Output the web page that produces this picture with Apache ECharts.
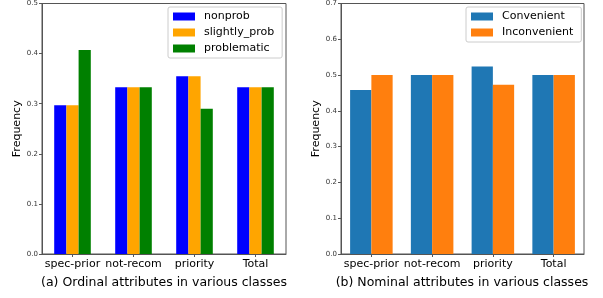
<!DOCTYPE html>
<html>
<head>
<meta charset="utf-8">
<script src="https://cdn.jsdelivr.net/npm/echarts@6/dist/echarts.min.js"></script>
<style>
  html, body { margin: 0; padding: 0; background: #fff; }
  #chart { width: 603px; height: 298px; }
</style>
</head>
<body>
<div id="chart"></div>
<script>
// 数据
const categories = ['spec-prior', 'not-recom', 'priority', 'Total'];

// (a) ordinal
const nonprob = [0.297, 0.333, 0.355, 0.333];
const slightlyProb = [0.297, 0.333, 0.355, 0.333];
const problematic = [0.407, 0.333, 0.290, 0.333];

// (b) nominal
const convenient = [0.458, 0.500, 0.524, 0.500];
const inconvenient = [0.500, 0.500, 0.473, 0.500];

const FONT = 'DejaVu Sans';
const FRAME = '#555';

const yAxisBase = (gridIndex, max) => ({
  type: 'value',
  gridIndex,
  min: 0,
  max,
  interval: 0.1,
  name: 'Frequency',
  nameLocation: 'middle',
  nameGap: 18,
  nameTextStyle: { fontFamily: FONT, fontSize: 11, color: '#000' },
  axisLine: { show: true, lineStyle: { color: FRAME } },
  axisTick: { show: true, length: 3, lineStyle: { color: FRAME } },
  axisLabel: { fontFamily: FONT, fontSize: 7, color: '#333', margin: 4,
    formatter: (v) => v.toFixed(1) },
  splitLine: { show: false },
});

const xAxisBase = (gridIndex) => ({
  type: 'category',
  gridIndex,
  data: categories,
  axisLine: { show: true, lineStyle: { color: FRAME } },
  axisTick: { show: true, alignWithLabel: true, length: 3, lineStyle: { color: FRAME } },
  axisLabel: { fontFamily: FONT, fontSize: 11, color: '#000', margin: 5, interval: 0 },
});

const bar = (name, data, color, idx, gap) => ({
  name,
  type: 'bar',
  data,
  xAxisIndex: idx,
  yAxisIndex: idx,
  barGap: '0%',
  barCategoryGap: gap,
  itemStyle: { color },
});

const legendBase = {
  orient: 'vertical',
  icon: 'rect',
  itemWidth: 22,
  itemHeight: 8,
  itemGap: 5,
  padding: [4, 8, 4, 5],
  borderColor: '#ccc',
  borderWidth: 1,
  borderRadius: 2,
  backgroundColor: '#fff',
  textStyle: { fontFamily: FONT, fontSize: 11, color: '#000', padding: [0, 0, 0, 4] },
  itemStyle: { borderWidth: 0 },
};

const chart = echarts.init(document.getElementById('chart'), null, { renderer: 'canvas' });

chart.setOption({
  animation: false,
  textStyle: { fontFamily: FONT },
  grid: [
    { left: 42, right: 317, top: 2, bottom: 44, show: true, borderColor: FRAME, borderWidth: 1 },
    { left: 341, right: 19, top: 1, bottom: 44, show: true, borderColor: FRAME, borderWidth: 1 },
  ],
  xAxis: [xAxisBase(0), xAxisBase(1)],
  yAxis: [yAxisBase(0, 0.5), yAxisBase(1, 0.7)],
  legend: [
    Object.assign({}, legendBase, { left: 168, top: 7, data: ['nonprob', 'slightly_prob', 'problematic'] }),
    Object.assign({}, legendBase, { left: 466, top: 7, data: ['Convenient', 'Inconvenient'] }),
  ],
  series: [
    bar('nonprob', nonprob, '#0000ff', 0, '40%'),
    bar('slightly_prob', slightlyProb, '#ffa500', 0, '40%'),
    bar('problematic', problematic, '#008000', 0, '40%'),
    bar('Convenient', convenient, '#1f77b4', 1, '30%'),
    bar('Inconvenient', inconvenient, '#ff7f0e', 1, '30%'),
  ],
  graphic: [
    { type: 'text', x: 164, y: 283, style: { text: '(a) Ordinal attributes in various classes',
      font: '12.5px "DejaVu Sans"', fill: '#000', align: 'center', verticalAlign: 'middle' } },
    { type: 'text', x: 462, y: 283, style: { text: '(b) Nominal attributes in various classes',
      font: '12.5px "DejaVu Sans"', fill: '#000', align: 'center', verticalAlign: 'middle' } },
  ],
});
</script>
</body>
</html>
